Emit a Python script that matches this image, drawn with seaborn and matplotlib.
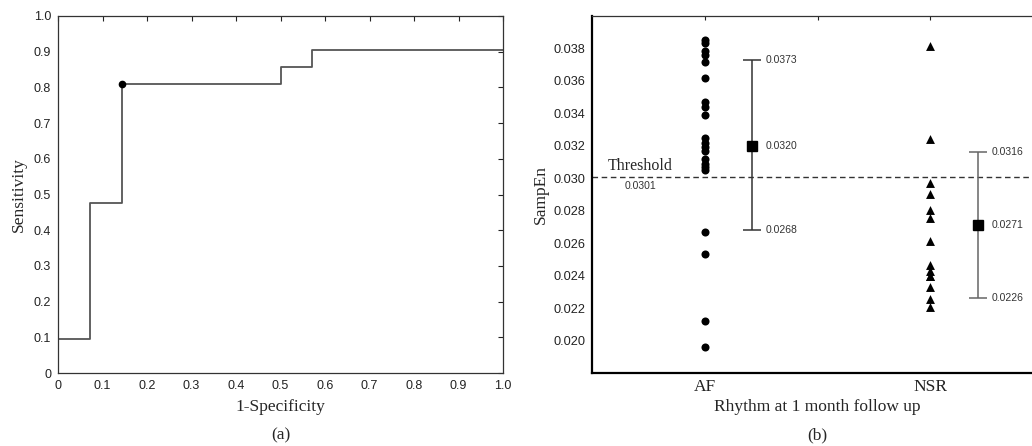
import matplotlib
matplotlib.use("Agg")
import matplotlib.pyplot as plt
import seaborn as sns
import pandas as pd
import numpy as np

# ROC curve (panel a)
fpr = [0.0, 0.071, 0.143, 0.5, 0.571, 1.0]
tpr = [0.095, 0.476, 0.810, 0.857, 0.905, 0.905]
best_point = [0.143, 0.810]

# SampEn values (panel b)
categories = ["AF", "NSR"]
af_values = [0.03855, 0.03831, 0.03783, 0.03759, 0.03714, 0.03615, 0.03471,
             0.03440, 0.03389, 0.0325, 0.0322, 0.0319, 0.0317, 0.0312,
             0.0309, 0.0307, 0.0305, 0.02669, 0.02536, 0.02119, 0.01959]
nsr_values = [0.03814, 0.03245, 0.02968, 0.02906, 0.02803, 0.02758, 0.02614,
              0.02464, 0.02429, 0.02397, 0.02397, 0.02327, 0.02259, 0.02207]
# mean - sd, mean, mean + sd
af_stats = [0.0268, 0.0320, 0.0373]
nsr_stats = [0.0226, 0.0271, 0.0316]
threshold = 0.0301

sns.set_theme(style="white")
plt.rcParams["font.family"] = ["Liberation Sans", "DejaVu Sans"]
serif = ["Liberation Serif", "DejaVu Serif"]

W, H = 1032, 446
fig = plt.figure(figsize=(W / 100, H / 100), dpi=100)
ax1 = fig.add_axes([58 / W, 1 - 373 / H, 445 / W, 357 / H])
ax2 = fig.add_axes([592 / W, 1 - 373 / H, 451 / W, 357 / H])

# ---- panel (a)
roc = pd.DataFrame({"fpr": fpr, "tpr": tpr})
sns.lineplot(data=roc, x="fpr", y="tpr", ax=ax1, drawstyle="steps-post",
             color="#555555", lw=1.3, estimator=None)
ax1.plot(best_point[0], best_point[1], "o", color="black", ms=4.5)
ax1.set_xlim(0, 1)
ax1.set_ylim(0, 1)
ticks = np.round(np.arange(0, 1.01, 0.1), 1)
labels = ["0"] + [f"{t:.1f}" for t in ticks[1:]]
ax1.set_xticks(ticks)
ax1.set_xticklabels(labels)
ax1.set_yticks(ticks)
ax1.set_yticklabels(labels)
ax1.tick_params(direction="in", top=True, right=True, length=3.5, width=0.8,
                labelsize=9, colors="#222222", pad=5)
ax1.set_xlabel("1-Specificity", family=serif, fontsize=12.5, labelpad=5)
ax1.set_ylabel("Sensitivity", family=serif, fontsize=12.5, labelpad=5)
for s in ax1.spines.values():
    s.set_color("#333333")
    s.set_linewidth(0.9)

# ---- panel (b)
df = pd.DataFrame({
    "rhythm": ["AF"] * len(af_values) + ["NSR"] * len(nsr_values),
    "sampen": af_values + nsr_values,
})
sns.stripplot(data=df[df.rhythm == "AF"], x="rhythm", y="sampen", order=categories,
              jitter=False, marker="o", color="black", size=5.8, ax=ax2)
sns.stripplot(data=df[df.rhythm == "NSR"], x="rhythm", y="sampen", order=categories,
              jitter=False, marker="^", color="black", size=6.4, ax=ax2)

ax2.axhline(threshold, color="#333333", lw=1, ls=(0, (4, 2.6)))
ax2.annotate("Threshold", (-0.285, threshold), xytext=(0, 2), textcoords="offset points",
             ha="center", va="bottom", family=serif, fontsize=11.5)
ax2.annotate(f"{threshold:.4f}", (-0.285, threshold), xytext=(0, -3), textcoords="offset points",
             ha="center", va="top", fontsize=7.5, color="#333333")

for i, (stats, col) in enumerate([(af_stats, "#333333"), (nsr_stats, "#666666")]):
    xpos = i + 0.21
    lo, mid, hi = stats
    ax2.errorbar(xpos, mid, yerr=[[mid - lo], [hi - mid]], fmt="s", color="black",
                 ecolor=col, elinewidth=1.1, capsize=6.3, capthick=1.1, ms=7)
    for v in stats:
        ax2.annotate(f"{v:.4f}", (xpos, v), xytext=(10, 0), textcoords="offset points",
                     ha="left", va="center", fontsize=7.5, color="#333333")

ax2.set_xlim(-0.5, 1.5)
ax2.set_ylim(0.018, 0.040)
yt = np.round(np.arange(0.020, 0.0381, 0.002), 3)
ax2.set_yticks(yt)
ax2.set_yticklabels([f"{v:.3f}" for v in yt])
ax2.set_xticks([0, 0.5, 1])
ax2.set_xticklabels(["AF", "", "NSR"], family=serif, fontsize=12.5)
ax2.tick_params(axis="y", direction="in", length=3, width=0.8, labelsize=9.2,
                colors="#222222", pad=5)
ax2.tick_params(axis="x", direction="in", top=True, length=3, width=0.8, pad=4,
                colors="#222222")
ax2.set_xlabel("Rhythm at 1 month follow up", family=serif, fontsize=12.5, labelpad=3)
ax2.set_ylabel("SampEn", family=serif, fontsize=12.5, labelpad=3)
ax2.spines["left"].set_linewidth(1.6)
ax2.spines["bottom"].set_linewidth(1.6)
ax2.spines["left"].set_color("black")
ax2.spines["bottom"].set_color("black")
ax2.spines["top"].set_linewidth(0.9)
ax2.spines["top"].set_color("#333333")

fig.text(280.5 / W, 1 - 435 / H, "(a)", ha="center", va="center", family=serif, fontsize=12.5)
fig.text(817 / W, 1 - 435 / H, "(b)", ha="center", va="center", family=serif, fontsize=12.5)

fig.savefig("out.png", dpi=100)
